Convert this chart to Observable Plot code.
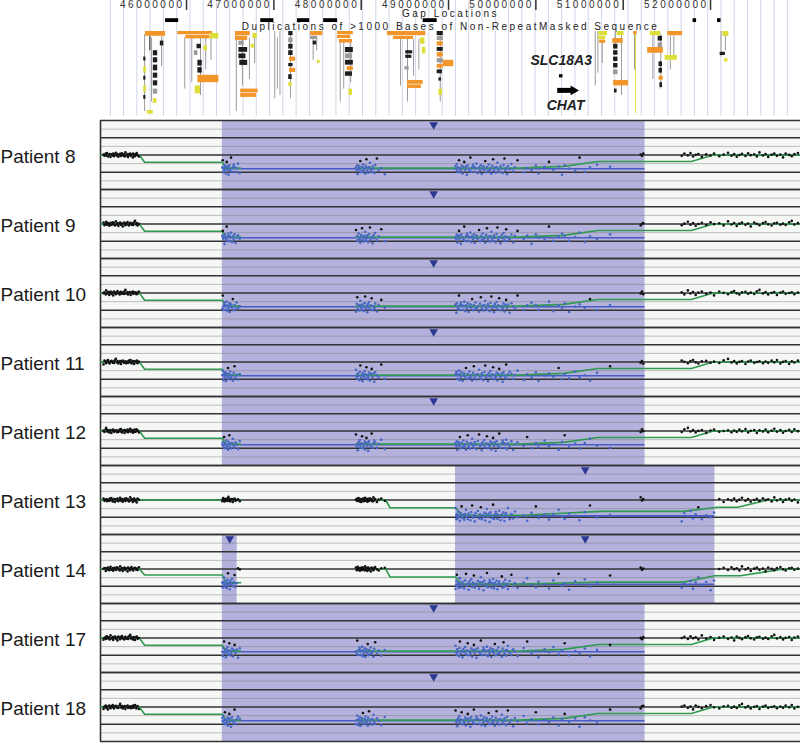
<!DOCTYPE html>
<html><head><meta charset="utf-8">
<script src="https://cdn.jsdelivr.net/npm/d3@7"></script>
<script src="https://cdn.jsdelivr.net/npm/@observablehq/plot@0.6"></script>
<style>
body{margin:0;background:#fff;}
#chart svg{display:block;}
</style>
</head><body><div id="chart"></div>
<script>
// ---------- DATA ----------
const X_DOMAIN = [45.015, 53.03]; // Mb shown
const tickValues = [46, 47, 48, 49, 50, 51, 52];
const tickLabels = ["46000000","47000000","48000000","49000000","50000000","51000000","52000000"];
const trackTitles = ["Gap Locations", "Duplications of >1000 Bases of Non-RepeatMasked Sequence"];

// gap locations [start, end] Mb
const gaps = [[45.76,45.91],[46.85,47.0],[47.27,47.41],[47.57,47.73],[48.71,48.87],[51.80,51.84],[52.08,52.12]];

// segmental duplications boxes [start, end, row1, row2, kind]
const segBoxes = [
 [45.53,45.76,0,1.5,"o"],[45.55,45.62,24.7,25.8,"y"],[45.51,45.54,11,13,"y"],[45.51,45.54,17,19,"y"],
 [45.51,45.535,8,9.2,"k"],[45.51,45.535,14,15.2,"k"],[45.51,45.535,20,21.2,"k"],
 [45.62,45.67,6,7.6,"k"],[45.62,45.67,8.2,9.8,"k"],[45.62,45.67,10.5,12.3,"k"],[45.62,45.67,13,14.6,"k"],[45.62,45.67,15.4,17,"k"],[45.62,45.67,18,19.6,"g"],
 [45.62,45.66,21,22.5,"y"],[45.70,45.74,3,4.5,"k"],
 [45.90,46.30,0,1,"o"],[45.99,46.27,1.2,2.3,"o"],[46.27,46.37,0.6,2.3,"y"],
 [46.13,46.18,9,10.8,"k"],[46.13,46.18,11.3,13,"k"],[46.09,46.13,6,7.5,"g"],[46.12,46.17,4,5.4,"k"],
 [46.13,46.37,13.7,16,"o"],[46.10,46.16,17,19.5,"y"],[46.20,46.24,4.5,6,"y"],
 [46.56,46.73,0,1.3,"o"],[46.56,46.70,1.5,2.8,"o"],[46.76,46.81,0.6,2.2,"y"],
 [46.60,46.70,5,6.5,"k"],[46.60,46.68,7,8.5,"k"],[46.61,46.70,9,10.6,"k"],[46.60,46.66,3,4.3,"g"],
 [46.62,46.82,18,19.2,"o"],[46.62,46.80,19.4,20.6,"o"],[46.74,46.78,4,5.2,"y"],
 [47.17,47.22,0,1.3,"k"],[47.17,47.22,2,3.5,"g"],[47.17,47.22,4,5.5,"k"],[47.17,47.22,6,7.5,"k"],[47.18,47.25,8,9.3,"o"],
 [47.17,47.22,10,11,"k"],[47.18,47.25,11.5,12.8,"o"],[47.17,47.21,13.5,15,"k"],[47.17,47.21,16,17.2,"y"],
 [47.42,47.56,0,1.3,"o"],[47.42,47.50,1.5,2.5,"g"],[47.50,47.53,9,10,"y"],[47.45,47.49,3,4.2,"k"],
 [47.73,47.91,0,1,"o"],[47.73,47.88,1.2,2.2,"o"],[47.75,47.90,2.5,3.6,"o"],
 [47.82,47.91,5,6.6,"k"],[47.82,47.90,7,8.5,"g"],[47.82,47.91,9,10.5,"k"],[47.84,47.91,11,12.2,"o"],[47.82,47.90,12.6,14,"k"],[47.86,47.90,18,20,"y"],
 [48.30,48.74,0,1.3,"o"],[48.37,48.60,1.5,2.5,"o"],[48.51,48.59,6,7,"k"],[48.51,48.58,7.4,8.4,"k"],
 [48.68,48.73,2,4,"y"],[48.70,48.74,5,7,"y"],[48.53,48.71,15.3,16.5,"o"],[48.53,48.69,16.7,17.8,"o"],[48.50,48.55,11,12,"g"],
 [48.87,48.94,0,1.3,"k"],[48.87,48.94,1.6,2.8,"g"],[48.87,48.94,3.2,4.5,"o"],[48.87,48.94,5,6.2,"k"],[48.87,48.94,6.6,8,"o"],
 [48.87,48.94,8.5,9.8,"g"],[48.87,48.94,10.3,11.5,"o"],[48.87,48.93,12,13.2,"k"],[48.94,49.06,9,11,"o"],[48.89,48.92,14.5,15.5,"k"],[48.89,48.93,18,20,"y"],
 [50.72,50.82,0,1.3,"y"],[50.72,50.80,1.5,2.5,"y"],[50.73,50.80,2.7,3.7,"o"],
 [50.88,51.00,2.2,3.7,"o"],[50.93,51.01,0,1.3,"y"],[50.89,50.94,4,5.5,"k"],[50.89,50.94,6,7.4,"k"],[50.89,50.94,8,9.4,"k"],
 [50.89,50.94,10,11.4,"k"],[50.89,50.94,12,13.5,"g"],[50.89,51.06,15.3,17,"o"],[50.90,50.93,18,19.2,"k"],
 [51.12,51.16,0,1,"o"],
 [51.51,51.68,0,1.3,"o"],[51.31,51.43,0,1.3,"y"],[51.28,51.46,5,6.8,"o"],[51.48,51.62,7.5,9,"y"],
 [51.40,51.45,1.5,3,"k"],[51.40,51.45,3.5,5,"g"],[51.41,51.45,9.5,11,"k"],[51.41,51.45,11.5,13,"k"],[51.41,51.46,14,15.2,"o"],[51.42,51.45,16,17.5,"k"],
 [52.14,52.21,0,1.5,"y"],[52.11,52.17,6.5,7.5,"k"],[52.16,52.20,8.5,9.5,"y"]
];
// thin duplication columns [position, row1, row2, kind]
const segCols = [
 [45.52,1,25,"g"],[45.715,1.5,11,"g"],[45.60,2,22,"g"],[45.58,1.5,6,"k"],
 [45.98,2,18,"g"],[46.06,2,16,"g"],[46.16,2,20,"g"],[46.22,2,12,"g"],[46.28,2,9,"g"],
 [46.57,1,25,"g"],[46.64,2,17,"g"],[46.72,2,15,"g"],[46.78,2,10,"g"],
 [47.01,0,21,"g"],[47.04,2,18,"g"],[47.07,0,20,"g"],[47.19,0,21,"g"],
 [47.45,1.5,9,"g"],[47.49,1.5,6,"g"],
 [47.76,3,22,"g"],[47.80,3,18,"g"],[47.88,3,16,"g"],
 [48.45,2.5,17,"g"],[48.53,2.5,22,"g"],[48.60,2.5,14,"g"],[48.66,2.5,12,"g"],
 [48.905,0,22,"g"],
 [50.68,0,17,"g"],[50.71,0,13,"g"],[50.76,3.7,10,"g"],
 [50.98,0,20,"g"],[50.91,0,4,"g"],
 [51.14,1,25.6,"y"],[51.13,1,12,"g"],
 [51.34,1,15,"g"],[51.43,1,18,"g"],[51.54,1.3,12,"g"],[51.58,1.3,8,"g"],
 [52.12,0,8,"g"],[52.17,1,6,"g"]
];
const genes = [
 {name: "SLC18A3", start: 50.27, end: 50.31},
 {name: "CHAT", start: 50.25, end: 50.49}
];

const patients = ["Patient 8","Patient 9","Patient 10","Patient 11","Patient 12","Patient 13","Patient 14","Patient 17","Patient 18"];
const delPatient = ["Patient 8","Patient 9","Patient 10","Patient 11","Patient 12","Patient 13","Patient 14","Patient 14","Patient 17","Patient 18"];
const delStart   = [46.41,46.41,46.41,46.41,46.41,49.08,46.41,49.08,46.41,46.41];
const delEnd     = [51.25,51.25,51.25,51.25,51.25,52.05,46.58,52.05,51.25,51.25];
const delLevel   = [-0.8,-0.8,-0.8,-0.8,-0.8,-0.92,-0.85,-0.88,-0.8,-0.8];

// probe positions (Mb)
const probesA = [45.05,45.06,45.075,45.08,45.09,45.10,45.115,45.12,45.13,45.14,45.155,45.16,45.17,45.18,45.19,45.205,45.21,45.22,45.235,45.24,45.25,45.26,45.27,45.285,45.29,45.30,45.31,45.325,45.33,45.34,45.355,45.36,45.37,45.385,45.39,45.40,45.41,45.425,45.43,45.44,45.455];
const probesB = [46.41,46.415,46.42,46.43,46.435,46.44,46.45,46.455,46.46,46.47,46.475,46.48,46.49,46.495,46.50,46.51,46.52,46.53,46.54,46.55,46.56,46.575,46.59,46.61];
const probesC = [47.94,47.95,47.955,47.96,47.97,47.98,47.985,47.99,48.0,48.01,48.015,48.02,48.03,48.04,48.045,48.05,48.06,48.07,48.075,48.08,48.09,48.10,48.11,48.12,48.13,48.14,48.15,48.16,48.18,48.20,48.23,48.27];
const probesD = [49.08,49.09,49.095,49.10,49.11,49.12,49.125,49.13,49.14,49.15,49.16,49.17,49.18,49.19,49.20,49.21,49.22,49.23,49.24,49.25,49.26,49.27,49.28,49.29,49.30,49.31,49.32,49.335,49.35,49.36,49.37,49.38,49.39,49.40,49.41,49.42,49.43,49.44,49.45,49.46,49.47,49.48,49.49,49.50,49.51,49.52,49.53,49.54,49.55,49.56,49.57,49.58,49.595,49.61,49.62,49.63,49.64,49.65,49.66,49.67,49.68,49.70,49.72,49.74,49.76,49.79];
const probesE = [49.86,49.9,49.95,50.0,50.03,50.1,50.15,50.2,50.26,50.3,50.33,50.38,50.45,50.5,50.56,50.62,50.7,50.85];
const probesF = [51.67,51.7,51.74,51.77,51.8,51.83,51.86,51.9,51.95,52.0,52.04,52.1,52.15,52.2,52.24,52.27,52.3,52.33,52.36,52.4,52.43,52.46,52.5,52.53,52.56,52.6,52.63,52.66,52.7,52.73,52.76,52.8,52.83,52.86,52.9,52.93,52.96,53.0];
const stableProbes = [51.20, 51.215, 51.23];

// measured scatter of log ratios around the call level
const normNoise = [0.03,-0.05,0.08,-0.02,0.11,-0.09,0.01,0.06,-0.12,0.04,-0.03,0.09,-0.07,0.02,0.13,-0.04,0.05,-0.1,0.0,0.07,-0.06,0.1,-0.01,0.04,-0.08,0.15,-0.03,0.06,-0.11,0.02,0.08,-0.05,0.03,-0.14,0.09,0.01,-0.07,0.05,0.12,-0.02,-0.09,0.04,0.07,-0.04,0.02,-0.06,0.1,0.18,-0.03,0.05,-0.08,0.01,0.06,-0.12,0.03,0.09,-0.05,0.0,0.04,-0.07];
const delNoise = [0.12,-0.18,0.05,0.3,-0.25,0.08,-0.1,0.2,-0.3,0.02,0.15,-0.05,0.45,-0.2,0.1,-0.15,0.25,-0.08,0.03,-0.28,0.18,0.55,-0.12,0.07,-0.22,0.1,0.35,-0.05,-0.18,0.14,0.0,-0.25,0.22,0.6,-0.1,0.05,-0.32,0.16,-0.02,0.28,-0.15,0.09,0.5,-0.2,0.04,-0.08,0.19,-0.27,0.11,0.4,-0.06,0.13,-0.35,0.21,0.02,-0.12,0.65,-0.18,0.08,0.24];

// moving-average (green) line vertices, [Mb, log ratio]
const greenTypical = [
 [[45.015,0],[45.46,0],[45.52,-0.42],[46.41,-0.42],[46.45,-0.76],[46.62,-0.76]],
 [[47.94,-0.76],[49.79,-0.76],[50.32,-0.66],[50.71,-0.38],[51.78,-0.38],[52.03,0],[53.03,0]]
];
const green13 = [
 [[45.015,0],[46.62,0]],
 [[47.94,0],[48.28,0],[48.33,-0.45],[49.08,-0.45],[49.15,-0.88],[49.85,-0.88],[50.74,-0.66],[51.69,-0.66],[52.08,-0.42],[52.31,-0.42],[52.65,0],[53.03,0]]
];
const green14 = [
 [[45.015,0],[45.46,0],[45.52,-0.35],[46.41,-0.35],[46.45,-0.8],[46.62,-0.8]],
 [[47.94,0],[48.28,0],[48.33,-0.46],[49.08,-0.46],[49.15,-0.87],[49.85,-0.87],[50.74,-0.76],[51.69,-0.76],[52.05,-0.39],[52.34,-0.39],[52.84,0],[53.03,0]]
];
const greenByPatient = {"Patient 13": green13, "Patient 14": green14};

// ---------- TABLES ----------
const delRows = delPatient.map((p, i) => ({patient: p, start: delStart[i], end: delEnd[i], level: delLevel[i]}));
const probesMb = [...probesA, ...probesB, ...probesC, ...probesD, ...probesE, ...probesF];
const probeRows = [];
patients.forEach((p, pi) => {
  const dels = delRows.filter(d => d.patient === p);
  probesMb.forEach((m, i) => {
    const d = dels.find(d => m >= d.start && m <= d.end);
    const v = d ? d.level + delNoise[(i + pi * 7) % delNoise.length]
                : normNoise[(i + pi * 11) % normNoise.length];
    probeRows.push({patient: p, mb: m, v});
  });
  stableProbes.forEach((m, i) => probeRows.push({patient: p, mb: m, v: normNoise[(i + pi * 5) % normNoise.length]}));
});
const greenRows = [];
patients.forEach(p => {
  (greenByPatient[p] || greenTypical).forEach((seg, si) =>
    seg.forEach(([mb, v]) => greenRows.push({patient: p, seg: p + "-" + si, mb, v})));
});

const COLORS = {o: "#f2952a", y: "#dede3a", k: "#1e1e1e", g: "#9a9a9a"};
const FONT = "Liberation Sans, Arial, Helvetica, sans-serif";

// ---------- TOP BROWSER TRACKS ----------
const guides = d3.range(45.127, 53.03, 0.152);
const topPlot = Plot.plot({
  width: 800, height: 116, marginLeft: 100, marginRight: 0, marginTop: 0, marginBottom: 0,
  x: {domain: X_DOMAIN, axis: null},
  y: {domain: [-9.6875, 26.5625], reverse: true, axis: null},
  color: {type: "identity"},
  style: {fontFamily: FONT, background: "#fff"},
  marks: [
    Plot.ruleX(guides, {stroke: "#d2d5e8", strokeWidth: 1}),
    Plot.ruleX(tickValues, {y1: -9.7, y2: -6.6, stroke: "#333", strokeWidth: 1.5}),
    Plot.text(tickValues, {x: d => d, y: -8.25, text: (d, i) => tickLabels[i], textAnchor: "end", dx: -2, lineAnchor: "middle", fontSize: 10, fill: "#333"}),
    Plot.text([trackTitles[0]], {y: -5.5, frameAnchor: "middle", text: d => d, lineAnchor: "middle", fontSize: 10, fill: "#222"}),
    Plot.text([trackTitles[1]], {y: -1.56, frameAnchor: "middle", text: d => d, lineAnchor: "middle", fontSize: 10, fill: "#222"}),
    Plot.rect(gaps, {x1: d => d[0], x2: d => d[1], y1: -4.0, y2: -2.8, fill: "#000"}),
    Plot.ruleX(segCols, {x: d => d[0], y1: d => d[1], y2: d => d[2], stroke: d => COLORS[d[3]], strokeWidth: 1}),
    Plot.rect(segBoxes, {x1: d => d[0], x2: d => d[1], y1: d => d[2], y2: d => d[3], fill: d => COLORS[d[4]]}),
    Plot.rect([genes[0]], {x1: "start", x2: "end", y1: 13.5, y2: 14.5, fill: "#000"}),
    Plot.ruleY([genes[1]], {x1: "start", x2: d => d.end - 0.07, y: 18.4, stroke: "#000", strokeWidth: 5}),
    Plot.dot([genes[1]], {x: d => d.end - 0.06, y: 18.4, symbol: "triangle", rotate: 90, r: 3.6, fill: "#000"}),
    Plot.text([genes[0]], {x: d => (d.start + d.end) / 2, y: 9.06, text: "name", fontSize: 14, fontWeight: "bold", fontStyle: "italic", fill: "#222", lineAnchor: "middle"}),
    Plot.text([genes[1]], {x: d => (d.start + d.end) / 2 - 0.03, y: 23.1, text: "name", fontSize: 14, fontWeight: "bold", fontStyle: "italic", fill: "#222", lineAnchor: "middle"})
  ]
});
// widen the browser's track lettering
const spaced = new Set([...tickLabels, ...trackTitles]);
d3.select(topPlot).selectAll("text").filter(function() { return spaced.has(this.textContent); })
  .attr("letter-spacing", "2.5px");

// ---------- MAIN PATIENT PANELS ----------
const mainPlot = Plot.plot({
  width: 800, height: 628, marginLeft: 100, marginRight: 0, marginTop: 1, marginBottom: 0,
  x: {domain: X_DOMAIN, axis: null},
  y: {domain: [-2, 2], axis: null},
  fy: {domain: patients, padding: 0, axis: null},
  color: {type: "identity"},
  style: {fontFamily: FONT, background: "#fff"},
  marks: [
    Plot.frame({fill: "#f5f7f5", stroke: "none"}),
    Plot.rect(delRows, {x1: "start", x2: "end", fy: "patient", fill: "#b4b2dc"}),
    Plot.ruleY([-1.5, -0.5, 0.5, 1.5], {stroke: "#777", strokeOpacity: 0.45, strokeWidth: 1}),
    Plot.ruleY([-2, -1, 0, 1, 2], {stroke: "#333", strokeWidth: 1.4}),
    Plot.ruleX([X_DOMAIN[0]], {stroke: "#333", strokeWidth: 1.6}),
    Plot.ruleY(delRows, {x1: "start", x2: "end", y: "level", fy: "patient", stroke: "#4a5bc4", strokeWidth: 1.6}),
    Plot.line(greenRows, {x: "mb", y: "v", z: "seg", fy: "patient", stroke: "#2f9a50", strokeWidth: 1.6}),
    Plot.dot(probeRows, {x: "mb", y: "v", fy: "patient", r: 1.3, fill: d => d.v < -0.45 ? "#4767c4" : "#111"}),
    Plot.dot(delRows, {x: d => (d.start + d.end) / 2, y: 1.75, fy: "patient", symbol: "triangle", rotate: 180, r: 3.2, fill: "#2b3990"}),
    Plot.text(patients, {fy: d => d, text: d => d, frameAnchor: "left", dx: -100, dy: 1.5, textAnchor: "start", fontSize: 19, fill: "#1a1a1a"})
  ]
});

const chart = document.getElementById("chart");
chart.appendChild(topPlot);
chart.appendChild(mainPlot);
</script>
</body></html>
